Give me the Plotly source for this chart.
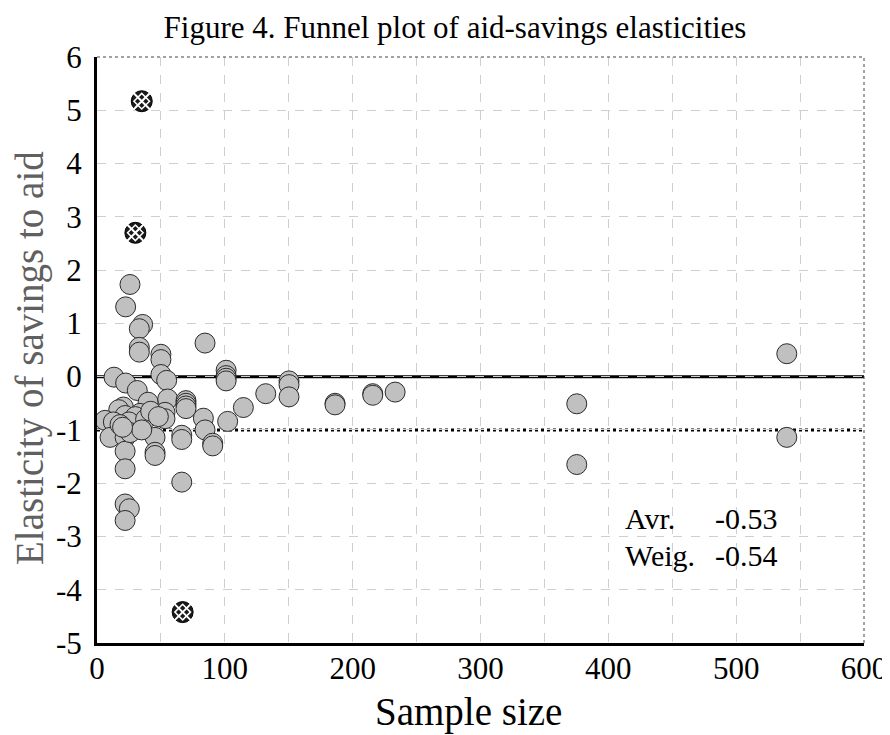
import plotly.graph_objects as go

# Sample size (x) and elasticity of savings to aid (y) for ordinary estimates
sample_size = [25.8, 22.4, 35.7, 33.1, 33.1, 33.1, 50, 50, 84.5, 101, 101, 101, 101,
               13.3, 22.4, 50, 54.5, 31.5, 132, 150.2, 150.2, 150.2, 40, 55.3,
               69.6, 69.6, 69.6, 69.6, 114.5, 20.6, 17, 53.2, 44, 33.6, 22, 6.3, 12.8,
               53.2, 83.2, 102.2, 32.3, 84.5, 10.2, 22, 45.4, 66.3, 66.3, 90.5, 90.5,
               22, 45.4, 45.4, 22, 66.3, 22, 25.3, 22,
               186.2, 186.2, 215.7, 215.7, 233.2, 539.6, 539.6, 375.3, 375.3,
               28, 30, 25, 38, 42, 48, 18, 26, 35, 20]
elasticity = [1.73, 1.31, 0.98, 0.90, 0.55, 0.46, 0.42, 0.32, 0.63, 0.12, 0.02, -0.03, -0.08,
              -0.01, -0.12, 0.04, -0.07, -0.26, -0.32, -0.08, -0.15, -0.38, -0.48, -0.42,
              -0.45, -0.50, -0.55, -0.60, -0.58, -0.57, -0.62, -0.67, -0.73, -0.69, -0.73, -0.82, -0.85,
              -0.79, -0.78, -0.84, -0.92, -1.00, -1.14, -1.14, -1.14, -1.10, -1.18, -1.25, -1.30,
              -1.40, -1.42, -1.48, -1.73, -1.98, -2.39, -2.48, -2.70,
              -0.50, -0.53, -0.32, -0.35, -0.29, 0.43, -1.14, -0.51, -1.65,
              -0.95, -0.75, -0.85, -0.80, -0.65, -0.75, -0.90, -1.05, -1.00, -0.95]

# Outlier estimates (hatched markers)
outlier_size = [35, 30, 67]
outlier_elasticity = [5.17, 2.70, -4.42]

avg_value = -0.53
weighted_value = -0.54

x_ticks = [0, 100, 200, 300, 400, 500, 600]
y_ticks = [-5, -4, -3, -2, -1, 0, 1, 2, 3, 4, 5, 6]

FONT = "Liberation Serif, Times New Roman, serif"

W, H = 882, 727          # page adds an 8px body margin
L, T = 89, 49            # plot area left/top inside figure
PW, PH = 767, 586        # plot area size

fig = go.Figure()

fig.add_trace(go.Scatter(
    x=sample_size, y=elasticity, mode="markers",
    marker=dict(size=20, color="#c0c0c0", line=dict(color="#2a2a2a", width=1)),
    hoverinfo="x+y", showlegend=False))

# hatched outliers: dark disc + white crosshatch overlay
fig.add_trace(go.Scatter(
    x=outlier_size, y=outlier_elasticity, mode="markers",
    marker=dict(size=21, color="#1a1a1a", line=dict(color="#000", width=1)),
    showlegend=False))
fig.add_trace(go.Scatter(
    x=outlier_size, y=outlier_elasticity, mode="markers",
    marker=dict(size=16, symbol="x-thin-open", color="white", line=dict(color="white", width=2)),
    showlegend=False, hoverinfo="skip"))
fig.add_trace(go.Scatter(
    x=outlier_size, y=outlier_elasticity, mode="markers",
    marker=dict(size=12, symbol="diamond-open", color="white", line=dict(color="white", width=1.5)),
    showlegend=False, hoverinfo="skip"))

# reference lines
fig.add_shape(type="line", xref="paper", yref="y", x0=0, x1=1, y0=0, y1=0,
              line=dict(color="black", width=3), layer="below")
fig.add_shape(type="line", xref="paper", yref="y", x0=0, x1=1, y0=-1, y1=-1,
              line=dict(color="black", width=3, dash="dot"), layer="below")

# top and right dotted borders
fig.add_shape(type="line", xref="paper", yref="paper", x0=0, x1=1, y0=1, y1=1,
              line=dict(color="#444", width=1, dash="dot"))
fig.add_shape(type="line", xref="paper", yref="paper", x0=1, x1=1, y0=0, y1=1,
              line=dict(color="#444", width=1, dash="dot"))

fig.update_xaxes(range=[0, 600], tickvals=x_ticks, ticktext=[str(v) for v in x_ticks],
                 showline=True, linecolor="black", linewidth=3, zeroline=False,
                 tickfont=dict(family=FONT, size=31, color="black"),
                 ticks="", ticklabelstandoff=-4,
                 showgrid=True, gridcolor="#cfcfcf", griddash="dash", gridwidth=1,
                 minor=dict(dtick=50, tick0=0, showgrid=True, gridcolor="#cfcfcf",
                            griddash="dash", gridwidth=1))
fig.update_yaxes(range=[-5, 6], tickvals=y_ticks, ticktext=[str(v) for v in y_ticks],
                 showline=True, linecolor="black", linewidth=3, zeroline=False,
                 tickfont=dict(family=FONT, size=31, color="black"),
                 ticks="outside", ticklen=6, tickcolor="rgba(0,0,0,0)",
                 showgrid=True, gridcolor="#cfcfcf", griddash="dash", gridwidth=1)

# Avr / Weig annotations
for label, val, yv in [("Avr.", avg_value, -2.67), ("Weig.", weighted_value, -3.36)]:
    fig.add_annotation(x=411.6, y=yv, text=label, showarrow=False, xanchor="left",
                       yanchor="middle", font=dict(family=FONT, size=30, color="black"))
    fig.add_annotation(x=482, y=yv, text=f"{val:.2f}", showarrow=False, xanchor="left",
                       yanchor="middle", font=dict(family=FONT, size=30, color="black"))

# axis titles
fig.add_annotation(xref="paper", yref="paper", x=(468 - 97) / PW, y=(643 - 712) / PH,
                   text="Sample size", showarrow=False, xanchor="center", yanchor="middle",
                   font=dict(family=FONT, size=39, color="black"))
fig.add_annotation(xref="paper", yref="paper", x=(30 - 97) / PW, y=(643 - 358) / PH,
                   text="Elasticity of savings to aid", showarrow=False, textangle=-90,
                   xanchor="center", yanchor="middle",
                   font=dict(family=FONT, size=39, color="#606060"))

fig.update_layout(
    width=W, height=H,
    margin=dict(l=L, r=W - L - PW, t=T, b=H - T - PH, autoexpand=False),
    paper_bgcolor="white", plot_bgcolor="white",
    title=dict(text="Figure 4. Funnel plot of aid-savings elasticities",
               x=(455 - 8) / W, xanchor="center", y=1 - (27 - 8) / H, yanchor="middle",
               font=dict(family=FONT, size=31, color="black")),
    showlegend=False,
)

fig.write_html("out.html")
